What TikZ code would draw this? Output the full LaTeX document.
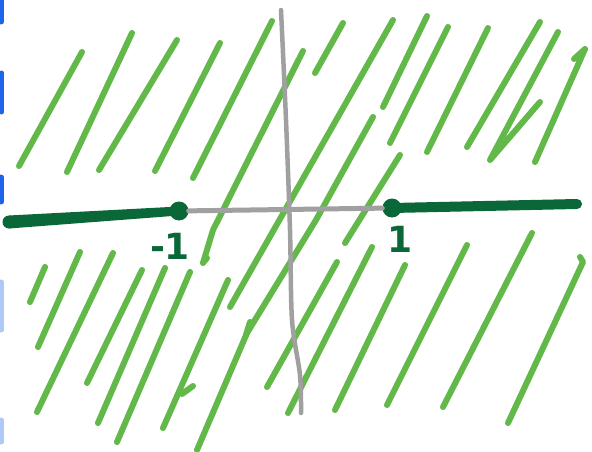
\documentclass[tikz,border=0pt]{standalone}
\usepackage{fontspec}
\setmainfont{DejaVu Sans}
\definecolor{lgreen}{RGB}{98,184,72}
\definecolor{dgreen}{RGB}{10,104,56}
\definecolor{axgray}{RGB}{160,160,160}
\definecolor{edgeblue}{RGB}{30,100,235}
\tikzset{
  hatch/.style={draw=lgreen,line width=6pt,line cap=round,line join=round},
  axis/.style={draw=axgray,line width=4.5pt,line cap=round,line join=round},
  ray/.style={draw=dgreen,line width=10pt,line cap=round},
  pt/.style={circle,fill=dgreen,inner sep=0pt,minimum size=19pt},
  lab/.style={text=dgreen,font=\bfseries\fontsize{36}{36}\selectfont,inner sep=0pt},
  edgemark/.style={draw=edgeblue,line width=5pt,line cap=round}
}
\begin{document}
\begin{tikzpicture}[x=1pt,y=-1pt]
\useasboundingbox (0,0) rectangle (592,452);
\fill[white] (0,0) rectangle (592,452);
% blue bits at the left edge
\draw[edgemark] (1,0) -- (1,22);
\draw[edgemark] (1.5,73) -- (1.5,112);
\draw[edgemark] (1,177) -- (1,202);
\draw[edgemark,opacity=0.35] (1,282) -- (1,330);
\draw[edgemark,opacity=0.35] (1,420) -- (1,442);
% hatching, upper left
\draw[hatch] (82,52) -- (19,166);
\draw[hatch] (132,33) -- (67,172);
\draw[hatch] (177,40) -- (99,170);
\draw[hatch] (220,43) -- (155,171);
\draw[hatch] (272,21) -- (193,178);
% long strokes through the middle
\draw[hatch] (303,51) -- (213,230) -- (203,263) -- (207,258);
\draw[hatch] (393,20) -- (230,307);
\draw[hatch] (373,117) -- (316,220) -- (247,333) -- (197,450);
\draw[hatch] (250,322) -- (246,335);
% hatching, upper right
\draw[hatch] (343,23) -- (315,73);
\draw[hatch] (427,16) -- (383,107);
\draw[hatch] (448,27) -- (390,143);
\draw[hatch] (488,28) -- (427,152);
\draw[hatch] (540,22) -- (467,147);
\draw[hatch] (558,32) -- (490,160) -- (540,102);
\draw[hatch] (574,59) -- (585,49) -- (535,162);
\draw[hatch] (400,155) -- (345,243);
% hatching, lower left
\draw[hatch] (45,267) -- (30,302);
\draw[hatch] (80,252) -- (38,347);
\draw[hatch] (113,253) -- (37,412);
\draw[hatch] (142,270) -- (87,383);
\draw[hatch] (165,268) -- (98,423);
\draw[hatch] (190,272) -- (117,442);
\draw[hatch] (228,280) -- (163,428);
\draw[hatch] (182,394) -- (193,386);
% hatching, lower right
\draw[hatch] (337,262) -- (267,387);
\draw[hatch] (372,247) -- (288,413);
\draw[hatch] (405,265) -- (335,410);
\draw[hatch] (467,245) -- (387,405);
\draw[hatch] (532,233) -- (443,407);
\draw[hatch] (580,257) -- (583,262) -- (508,423);
% axes
\draw[axis] plot[smooth] coordinates {(281,10) (286,120) (290,230) (292,320) (300,375) (301,413)};
\node[pt] (m) at (179,211) {};
\node[pt] (p) at (392,208) {};
\coordinate (lend) at (9,222);
\coordinate (rend) at (577,204);
\draw[axis,line width=5pt] (m) -- (p);
\fill[dgreen] ([yshift=6.5pt]lend) -- ([yshift=4.5pt]m.center) -- ([yshift=-4.5pt]m.center) -- ([yshift=-6.5pt]lend) -- cycle;
\fill[dgreen] (lend) circle[radius=6.5pt];
\draw[ray] (p.center) -- (rend);
% labels
\node[lab] (lm) at (170,246) {-1};
\node[lab] (lp) at (400,239) {1};
\end{tikzpicture}
\end{document}
